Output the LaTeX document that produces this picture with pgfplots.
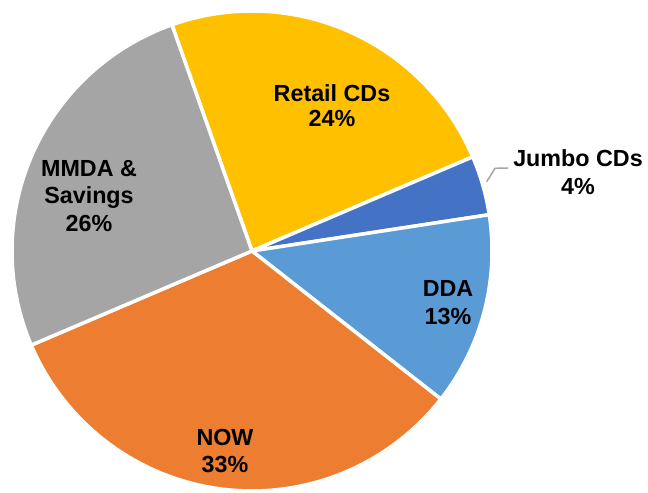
\documentclass[border=0pt]{standalone}
\usepackage{pgfplots}
\pgfplotsset{compat=1.18}
\usepackage{fontspec}
\setmainfont{Liberation Sans}
\definecolor{cRetail}{HTML}{FFC000}
\definecolor{cJumbo}{HTML}{4472C4}
\definecolor{cDDA}{HTML}{5B9BD5}
\definecolor{cNOW}{HTML}{ED7D31}
\definecolor{cMMDA}{HTML}{A5A5A5}
% shares in percent
\def\vRetail{24}
\def\vJumbo{4}
\def\vDDA{13}
\def\vNOW{33}
\def\vMMDA{26}
\def\R{240}
\pgfmathsetmacro\aA{109.5}
\pgfmathsetmacro\aB{\aA-3.6*\vRetail}
\pgfmathsetmacro\aC{\aB-3.6*\vJumbo}
\pgfmathsetmacro\aD{\aC-3.6*\vDDA}
\pgfmathsetmacro\aE{\aD-3.6*\vNOW}
\pgfmathsetmacro\aF{\aE-3.6*\vMMDA}
\tikzset{lbl/.style={font=\fontsize{23.3bp}{28bp}\selectfont\bfseries, text=black, inner sep=0pt, anchor=base}}
\begin{document}
\begin{tikzpicture}
\begin{axis}[
  scale only axis, width=648bp, height=490bp,
  xmin=-252, xmax=396, ymin=-239, ymax=251,
  hide axis, clip=false,
]
\path (rel axis cs:0,0) rectangle (rel axis cs:1,1);
\addplot[fill=cRetail, draw=white, line width=3.5bp, domain=\aB:\aA, samples=80, variable=\t] ({\R*cos(t)},{\R*sin(t)}) -- (axis cs:0,0) -- cycle;
\addplot[fill=cJumbo, draw=white, line width=3.5bp, domain=\aC:\aB, samples=20, variable=\t] ({\R*cos(t)},{\R*sin(t)}) -- (axis cs:0,0) -- cycle;
\addplot[fill=cDDA, draw=white, line width=3.5bp, domain=\aD:\aC, samples=50, variable=\t] ({\R*cos(t)},{\R*sin(t)}) -- (axis cs:0,0) -- cycle;
\addplot[fill=cNOW, draw=white, line width=3.5bp, domain=\aE:\aD, samples=100, variable=\t] ({\R*cos(t)},{\R*sin(t)}) -- (axis cs:0,0) -- cycle;
\addplot[fill=cMMDA, draw=white, line width=3.5bp, domain=\aF:\aE, samples=80, variable=\t] ({\R*cos(t)},{\R*sin(t)}) -- (axis cs:0,0) -- cycle;
% leader line
\addplot[color=black!35, line width=1.5bp, mark=none] coordinates {(234.7,69.3) (243,82.7) (256,83)};
% labels
\node[lbl] at (axis cs:80,149) {Retail CDs};
\node[lbl] at (axis cs:80,124.5) {24\%};
\node[lbl] at (axis cs:326,84.3) {Jumbo CDs};
\node[lbl] at (axis cs:326,56) {4\%};
\node[lbl] at (axis cs:196,-45.7) {DDA};
\node[lbl] at (axis cs:196,-74) {13\%};
\node[lbl] at (axis cs:-27,-195) {NOW};
\node[lbl] at (axis cs:-27,-222) {33\%};
\node[lbl] at (axis cs:-163,74) {MMDA \&};
\node[lbl] at (axis cs:-163,47) {Savings};
\node[lbl] at (axis cs:-163,19) {26\%};
\end{axis}
\end{tikzpicture}
\end{document}
